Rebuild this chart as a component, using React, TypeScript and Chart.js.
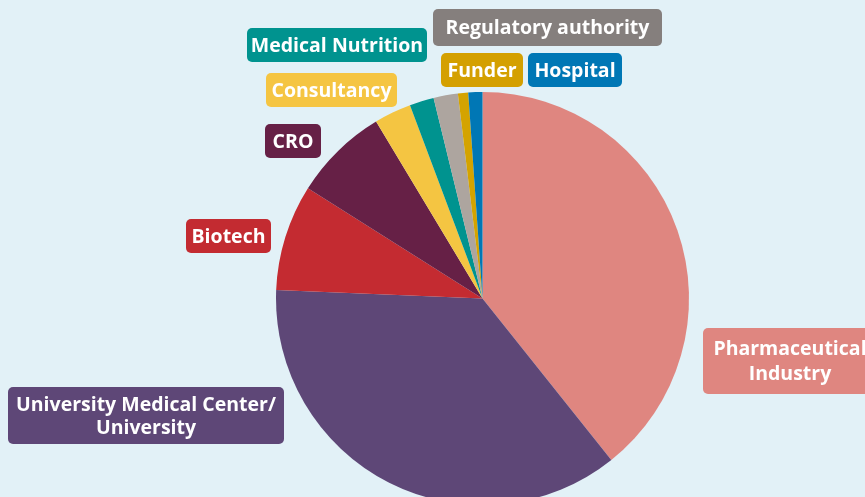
import React, { useEffect, useRef } from "react";
import { Chart, registerables } from "chart.js";

Chart.register(...registerables);

const categories = [
  "Pharmaceutical Industry",
  "University Medical Center/ University",
  "Biotech",
  "CRO",
  "Consultancy",
  "Medical Nutrition",
  "Regulatory authority",
  "Funder",
  "Hospital",
];
const shares = [39.2, 36.3, 8.3, 7.4, 2.9, 1.9, 1.9, 0.8, 1.1];
const sliceColors = [
  "#DF8680",
  "#5E4777",
  "#C42B31",
  "#662046",
  "#F4C542",
  "#00938F",
  "#ADA59F",
  "#D4A300",
  "#0077B5",
];
const labelLines = [
  ["Pharmaceutical", "Industry"],
  ["University Medical Center/", "University"],
  ["Biotech"],
  ["CRO"],
  ["Consultancy"],
  ["Medical Nutrition"],
  ["Regulatory authority"],
  ["Funder"],
  ["Hospital"],
];
const labelColors = [
  "#DF8680",
  "#5E4777",
  "#C32B31",
  "#662046",
  "#F5C542",
  "#00938F",
  "#857F7D",
  "#D4A000",
  "#0077B5",
];
// label box layout: [left, top, width, height, lineHeight]
const labelBoxes = [
  [703, 328, 176, 66, 25],
  [8, 387, 276, 57, 23],
  [186, 219, 85, 34, 23],
  [265, 124, 56, 34, 23],
  [266, 73, 131, 34, 23],
  [247, 28, 180, 34, 23],
  [433, 9, 229, 37, 23],
  [441, 53, 82, 34, 23],
  [528, 53, 94, 34, 23],
];

const FONT = "bold 19.5px 'Open Sans', sans-serif";

const labelPlugin = {
  id: "boxLabels",
  afterDraw(chart: any) {
    const ctx = chart.ctx as CanvasRenderingContext2D;
    ctx.save();
    labelLines.forEach((lines, i) => {
      const [x, y, w, h, lh] = labelBoxes[i];
      ctx.fillStyle = labelColors[i];
      ctx.beginPath();
      (ctx as any).roundRect(x, y, w, h, 5);
      ctx.fill();
      ctx.fillStyle = "#FFFFFF";
      ctx.font = FONT;
      ctx.textAlign = "center";
      ctx.textBaseline = "middle";
      const cx = x + w / 2;
      const cy = y + h / 2;
      lines.forEach((ln, j) => {
        const ty = cy + (j - (lines.length - 1) / 2) * lh;
        ctx.fillText(ln, i === 0 ? 790 : cx, ty + 1);
      });
    });
    ctx.restore();
  },
};

export default function App() {
  const ref = useRef<HTMLCanvasElement | null>(null);
  useEffect(() => {
    if (!ref.current) return;
    const chart = new Chart(ref.current, {
      type: "pie",
      data: {
        labels: categories,
        datasets: [
          {
            data: shares,
            backgroundColor: sliceColors,
            borderWidth: 0,
          },
        ],
      },
      options: {
        animation: false,
        responsive: true,
        maintainAspectRatio: false,
        layout: { padding: { top: 92, left: 276, right: 176, bottom: 0 } },
        plugins: {
          legend: { display: false },
          tooltip: { enabled: false },
        },
      },
      plugins: [labelPlugin],
    });
    return () => chart.destroy();
  }, []);
  return (
    <div
      style={{
        position: "fixed",
        left: 0,
        top: 0,
        width: 865,
        height: 497,
        overflow: "hidden",
        background: "#E2F1F7",
      }}
    >
      <div style={{ position: "relative", width: 865, height: 505 }}>
        <canvas ref={ref} />
      </div>
    </div>
  );
}
